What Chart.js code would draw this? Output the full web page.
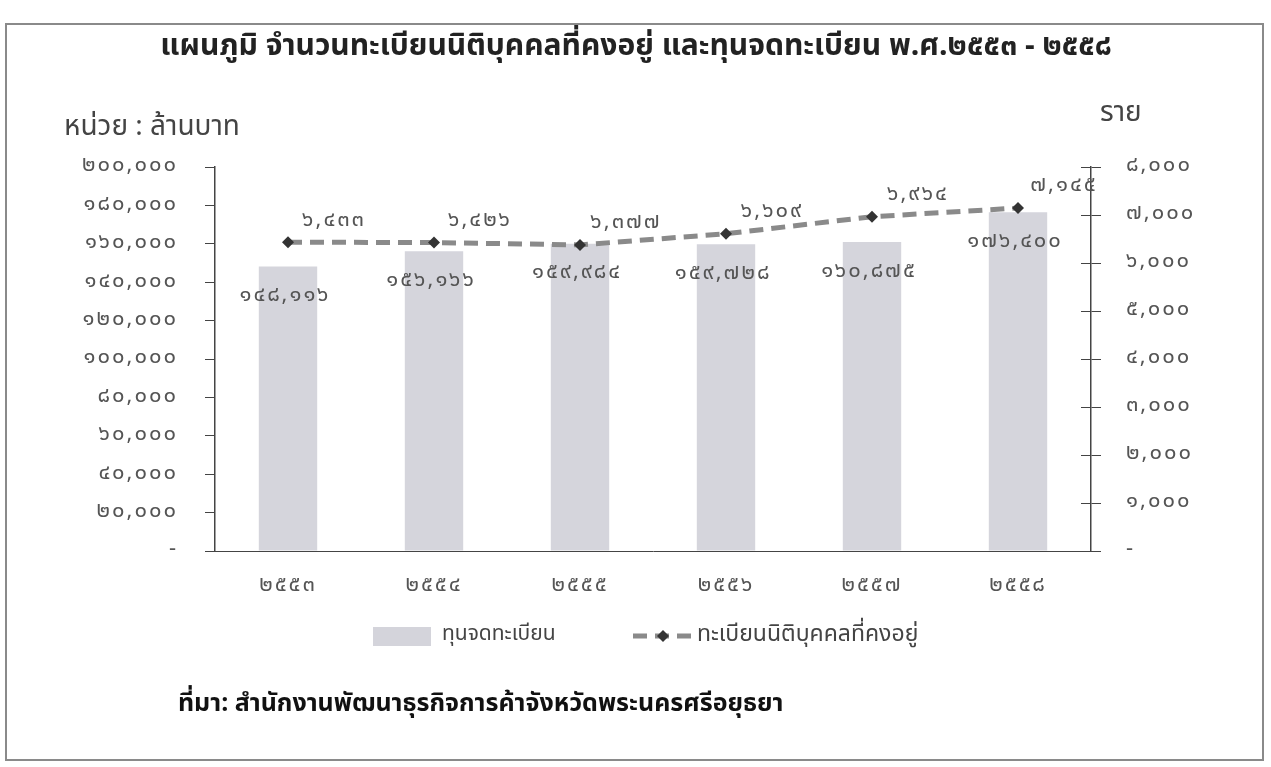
<!DOCTYPE html>
<html>
<head>
<meta charset="utf-8">
<script src="https://cdn.jsdelivr.net/npm/chart.js@4/dist/chart.umd.min.js"></script>
<style>
  html, body { margin: 0; padding: 0; background: #fff; }
  #wrap { position: relative; width: 1271px; height: 767px; }
  #frame { position: absolute; left: 5px; top: 23px; width: 1259px; height: 738px; border: 2px solid #8a8a8a; box-sizing: border-box; }
</style>
</head>
<body>
<div id="wrap">
  <div id="frame"></div>
  <canvas id="chart" width="1271" height="767"></canvas>
</div>
<script>
// ---- data ----
const years = [2553, 2554, 2555, 2556, 2557, 2558];
const capital = [148116, 156166, 159984, 159728, 160875, 176400];   // ล้านบาท
const entities = [6433, 6426, 6377, 6609, 6964, 7145];              // ราย

const FONT = "'Noto Sans Thai', 'Loma', 'Garuda', 'Tlwg Typo', sans-serif";
const NUM_SPACING = '2px';

// convert arabic digits to thai digits, with thousands separator
function thaiNum(n) {
  const digits = '๐๑๒๓๔๕๖๗๘๙';
  return Number(n).toLocaleString('en-US').replace(/[0-9]/g, d => digits[+d]);
}

// wide looking thai numerals: letter spacing on everything chart.js draws
const spacing = {
  id: 'spacing',
  beforeDraw(chart) { chart.ctx.letterSpacing = NUM_SPACING; }
};

// labels on bars and points
const valueLabels = {
  id: 'valueLabels',
  afterDatasetsDraw(chart) {
    const ctx = chart.ctx;
    ctx.save();
    ctx.letterSpacing = NUM_SPACING;
    ctx.font = '22px ' + FONT;
    ctx.fillStyle = '#555';
    ctx.textAlign = 'center';
    ctx.textBaseline = 'middle';
    chart.getDatasetMeta(1).data.forEach((bar, i) => {
      ctx.fillText(thaiNum(capital[i]), bar.x - 3, bar.y + 30);
    });
    chart.getDatasetMeta(0).data.forEach((pt, i) => {
      ctx.fillText(thaiNum(entities[i]), pt.x + 46, pt.y - 21);
    });
    ctx.restore();
  }
};

// texts around the plot + legend, ticks crossing right axis
const decorations = {
  id: 'decorations',
  afterDraw(chart) {
    const ctx = chart.ctx;
    ctx.save();
    ctx.letterSpacing = '0px';
    ctx.fillStyle = '#222';
    ctx.textBaseline = 'middle';
    ctx.textAlign = 'center';
    ctx.font = 'bold 30px ' + FONT;
    ctx.fillText('แผนภูมิ จำนวนทะเบียนนิติบุคคลที่คงอยู่ และทุนจดทะเบียน พ.ศ.๒๕๕๓ - ๒๕๕๘', 636, 49);

    ctx.textAlign = 'left';
    ctx.fillStyle = '#444';
    ctx.font = '28px ' + FONT;
    ctx.fillText('หน่วย : ล้านบาท', 64, 129);
    ctx.fillText('ราย', 1100, 115);

    // right axis tick marks cross inside too
    const y1 = chart.scales.y1;
    ctx.strokeStyle = '#444';
    ctx.lineWidth = 1;
    y1.ticks.forEach((t, i) => {
      const py = Math.round(y1.getPixelForTick(i)) + 0.5;
      ctx.beginPath();
      ctx.moveTo(y1.left - 10, py);
      ctx.lineTo(y1.left, py);
      ctx.stroke();
    });

    // legend
    ctx.fillStyle = '#d4d4db';
    ctx.fillRect(373, 627, 58, 19);
    ctx.fillStyle = '#444';
    ctx.font = '21px ' + FONT;
    ctx.fillText('ทุนจดทะเบียน', 442, 636);

    ctx.strokeStyle = '#8a8a8a';
    ctx.lineWidth = 5;
    ctx.setLineDash([14, 8]);
    ctx.beginPath();
    ctx.moveTo(633, 636);
    ctx.lineTo(694, 636);
    ctx.stroke();
    ctx.setLineDash([]);
    ctx.fillStyle = '#333';
    ctx.beginPath();
    ctx.moveTo(663, 630); ctx.lineTo(669, 636); ctx.lineTo(663, 642); ctx.lineTo(657, 636);
    ctx.closePath();
    ctx.fill();
    ctx.fillStyle = '#444';
    ctx.font = '23px ' + FONT;
    ctx.fillText('ทะเบียนนิติบุคคลที่คงอยู่', 697, 636);

    ctx.fillStyle = '#111';
    ctx.font = 'bold 25px ' + FONT;
    ctx.fillText('ที่มา: สำนักงานพัฒนาธุรกิจการค้าจังหวัดพระนครศรีอยุธยา', 178, 706);
    ctx.restore();
  }
};

new Chart(document.getElementById('chart'), {
  data: {
    labels: years.map(y => thaiNum(y).replace(',', '')),
    datasets: [{
      type: 'line',
      label: 'ทะเบียนนิติบุคคลที่คงอยู่',
      data: entities,
      yAxisID: 'y1',
      borderColor: '#8a8a8a',
      borderWidth: 5,
      borderDash: [14, 8],
      pointStyle: 'rectRot',
      pointRadius: 6,
      pointBackgroundColor: '#333',
      pointBorderColor: '#333',
      pointBorderWidth: 0,
      tension: 0,
      order: 0
    }, {
      type: 'bar',
      label: 'ทุนจดทะเบียน',
      data: capital,
      yAxisID: 'y',
      backgroundColor: '#d5d5dc',
      barPercentage: 0.4,
      categoryPercentage: 1,
      order: 1
    }]
  },
  options: {
    responsive: false,
    animation: false,
    layout: { padding: { top: 167, left: 0, right: 0, bottom: 0 } },
    plugins: { legend: { display: false }, tooltip: { enabled: false } },
    scales: {
      x: {
        grid: { display: false, drawTicks: false },
        border: { display: true, color: '#444', width: 1 },
        ticks: { color: '#555', font: { size: 22, family: FONT }, padding: 22 },
        afterFit: s => { s.height = 216; }
      },
      y: {
        position: 'left',
        min: 0, max: 200000,
        ticks: {
          stepSize: 20000, color: '#555', padding: 27,
          font: { size: 22, family: FONT },
          callback: v => v === 0 ? '-' : thaiNum(v)
        },
        grid: { drawOnChartArea: false, drawTicks: true, tickLength: 10, color: '#444' },
        border: { display: true, color: '#444', width: 1.5 },
        afterFit: s => { s.width = 215; }
      },
      y1: {
        position: 'right',
        min: 0, max: 8000,
        ticks: {
          stepSize: 1000, color: '#555', padding: 25,
          font: { size: 22, family: FONT },
          callback: v => v === 0 ? '-' : thaiNum(v)
        },
        grid: { drawOnChartArea: false, drawTicks: true, tickLength: 10, color: '#444' },
        border: { display: true, color: '#444', width: 1.5 },
        afterFit: s => { s.width = 180; }
      }
    }
  },
  plugins: [spacing, valueLabels, decorations]
});
</script>
</body>
</html>
